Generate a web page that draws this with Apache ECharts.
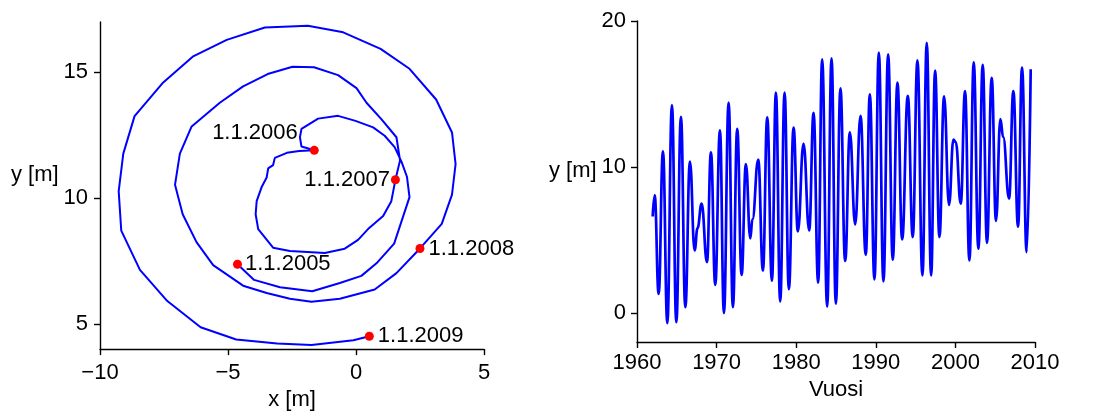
<!DOCTYPE html>
<html><head><meta charset="utf-8">
<script src="https://cdn.jsdelivr.net/npm/echarts@6/dist/echarts.min.js"></script>
<style>html,body{margin:0;padding:0;background:#fff}#c{width:1108px;height:416px}</style>
</head><body><div id="c"></div>
<script>
// ---- Left panel: spiral path (x [m], y [m]) ----
const spiralX = [-4.63,-3.98,-2.97,-1.71,-0.63,0.21,0.80,1.49,2.09,1.99,1.78,1.51,1.12,0.67,-0.02,-0.70,-1.48,-2.13,-2.19,-2.13,-1.63,
  -2.22,-2.70,-3.17,-3.24,-3.43,-3.49,-3.69,-3.88,-3.92,-3.82,-3.24,-2.58,-1.22,-0.44,0.08,0.47,1.06,1.38,1.54,
  1.72,1.58,0.99,0.41,0.02,-0.70,-1.64,-2.48,-3.45,-4.41,-5.32,-6.42,-6.88,-7.07,-6.77,-6.23,-5.58,-4.41,-3.49,-2.58,-1.74,-0.63,0.73,1.58,2.50,
  3.35,3.75,3.89,3.75,3.13,2.09,0.96,-0.50,-1.88,-3.56,-5.05,-6.38,-7.53,-8.65,-9.09,-9.27,-9.17,-8.44,-7.37,-6.07,-4.68,-3.08,-1.74,-0.10,0.52];
const spiralY = [7.37,6.75,6.46,6.30,6.63,6.91,7.41,8.19,10.04,10.85,11.44,12.03,12.48,12.81,13.07,13.27,13.16,12.75,12.42,12.05,11.90,
  11.87,11.80,11.60,11.31,11.18,10.82,10.43,9.88,9.36,8.77,8.03,7.90,7.82,7.99,8.34,8.77,9.29,9.88,10.73,
  11.50,12.42,13.14,13.79,14.37,14.89,15.20,15.22,14.93,14.44,13.79,12.85,11.77,10.53,9.36,8.25,7.34,6.52,6.23,6.00,5.88,6.00,6.37,7.02,8.00,
  8.98,10.14,11.35,12.61,13.92,15.14,15.93,16.59,16.85,16.78,16.29,15.62,14.60,13.26,11.77,10.28,8.71,7.15,5.91,4.87,4.38,4.22,4.16,4.35,4.51];
const markerLabels = ['1.1.2005','1.1.2006','1.1.2007','1.1.2008','1.1.2009'];
const markerX = [-4.63,-1.63,1.54,2.50,0.52];
const markerY = [7.37,11.90,10.73,8.00,4.51];
const leftXTicks = [-10,-5,0,5];
const leftYTicks = [5,10,15];

// ---- Right panel: y [m] time series ----
const tsYears = [1961.97,1962.22,1962.72,1963.26,1963.81,1964.39,1964.94,1965.52,1966.07,1966.65,1967.24,1967.6,1968.12,1968.79,1969.29,1969.83,
  1970.42,1970.92,1971.51,1972.05,1972.59,1973.14,1973.68,1974.23,1974.5,1975.23,1975.82,1976.36,1976.95,1977.45,1977.99,1978.54,1979.08,1979.67,
  1980.21,1980.92,1981.63,1982.18,1982.76,1983.26,1983.89,1984.44,1984.98,1985.56,1986.15,1986.74,1987.41,1988.08,1988.74,1989.25,1989.83,
  1990.38,1990.96,1991.55,1992.13,1992.72,1993.31,1994.02,1994.64,1995.23,1995.86,1996.4,1996.95,1997.45,1997.99,1998.58,1999.2,1999.75,
  2000.05,2000.67,2001.21,2001.76,2002.30,2002.89,2003.43,2003.97,2004.56,2005.1,2005.65,2006.0,2006.74,2007.28,2007.87,2008.37,2008.95,2009.46];
const tsValues = [6.6,8.05,1.3,11.07,-0.7,14.23,-0.64,13.43,0.39,10.37,4.28,5.8,7.48,3.48,11.0,1.92,
  12.5,-0.02,14.4,0.39,12.6,2.6,10.2,5.1,6.4,10.5,2.9,13.4,2.2,15.1,0.78,15.1,1.62,12.7,
  5.58,11.6,5.65,13.7,2.06,17.37,0.43,17.44,0.62,15.38,3.55,12.36,6.06,13.5,3.98,14.97,2.29,
  17.83,2.15,17.71,3.64,15.77,5.03,14.87,5.19,17.3,2.56,18.5,2.56,16.6,5.19,14.83,7.39,11.88,
  11.7,7.48,15.19,3.59,17.16,4.39,17.0,4.8,16.1,6.3,13.27,12.06,7.83,15.2,5.9,16.8,4.16,16.7];
const rightXTicks = [1960,1970,1980,1990,2000,2010];
const rightYTicks = [0,10,20];

const FONT = '"Liberation Sans", Arial, Helvetica, sans-serif';
const minus = v => (v < 0 ? '\u2212' + Math.abs(v) : String(v));
const plain = v => String(v);
const axisLineStyle = {show: true, onZero: false, lineStyle: {color: '#000', width: 1.4}};
const tickStyle = {show: true, inside: false, length: 6, lineStyle: {color: '#000', width: 1.4}};
const nameStyle = {fontFamily: FONT, fontSize: 22, color: '#000'};
const labelStyle = {fontFamily: FONT, fontSize: 22, color: '#000'};

const labelPos = [
  {position: 'right', distance: 3, offset: [0, 0]},
  {position: 'left', distance: 12, offset: [0, -17]},
  {position: 'left', distance: 1, offset: [0, 0]},
  {position: 'right', distance: 4, offset: [0, 0]},
  {position: 'right', distance: 4, offset: [0, 0]}
];

function axis(extra, ticks, fmt, margin) {
  return Object.assign({
    type: 'value',
    axisLine: axisLineStyle,
    splitLine: {show: false},
    axisTick: Object.assign({}, tickStyle, {customValues: ticks}),
    axisLabel: Object.assign({}, labelStyle, {margin: margin, formatter: fmt, customValues: ticks}),
    nameTextStyle: nameStyle
  }, extra);
}

const option = {
  animation: false,
  backgroundColor: '#fff',
  grid: [
    {left: 100, top: 22, width: 384, height: 332},
    {left: 637, top: 21, width: 398, height: 321}
  ],
  xAxis: [
    axis({gridIndex: 0, min: -10, max: 5, interval: 5, name: 'x [m]', nameLocation: 'middle', nameGap: 39}, leftXTicks, minus, 13),
    axis({gridIndex: 1, min: 1960, max: 2010, interval: 10, name: 'Vuosi', nameLocation: 'middle', nameGap: 36}, rightXTicks, plain, 10)
  ],
  yAxis: [
    axis({gridIndex: 0, min: 4, max: 17, name: 'y [m]', nameLocation: 'middle', nameGap: 38, nameRotate: 0,
      nameTextStyle: Object.assign({}, nameStyle, {verticalAlign: 'bottom'})}, leftYTicks, plain, 12),
    axis({gridIndex: 1, min: -2, max: 20, name: 'y [m]', nameLocation: 'middle', nameGap: 40, nameRotate: 0,
      nameTextStyle: Object.assign({}, nameStyle, {verticalAlign: 'bottom'})}, rightYTicks, plain, 11)
  ],
  series: [
    {
      type: 'line', xAxisIndex: 0, yAxisIndex: 0, symbol: 'none', smooth: false,
      lineStyle: {color: '#0000ff', width: 2},
      data: spiralX.map((x, i) => [x, spiralY[i]]), z: 2
    },
    {
      type: 'scatter', xAxisIndex: 0, yAxisIndex: 0, symbol: 'circle', symbolSize: 9,
      itemStyle: {color: '#ff0000', opacity: 1}, z: 3,
      data: markerX.map((x, i) => ({
        value: [x, markerY[i]], name: markerLabels[i],
        label: Object.assign({show: true, formatter: '{b}', fontFamily: FONT, fontSize: 22, color: '#000', opacity: 1}, labelPos[i])
      }))
    },
    {
      type: 'line', xAxisIndex: 1, yAxisIndex: 1, symbol: 'none', smooth: 0.45, smoothMonotone: 'x',
      lineStyle: {color: '#0000ff', width: 2.7},
      data: tsYears.map((t, i) => [t, tsValues[i]])
    }
  ]
};
const chart = echarts.init(document.getElementById('c'), null, {renderer: 'canvas'});
chart.setOption(option);
</script>
</body></html>
